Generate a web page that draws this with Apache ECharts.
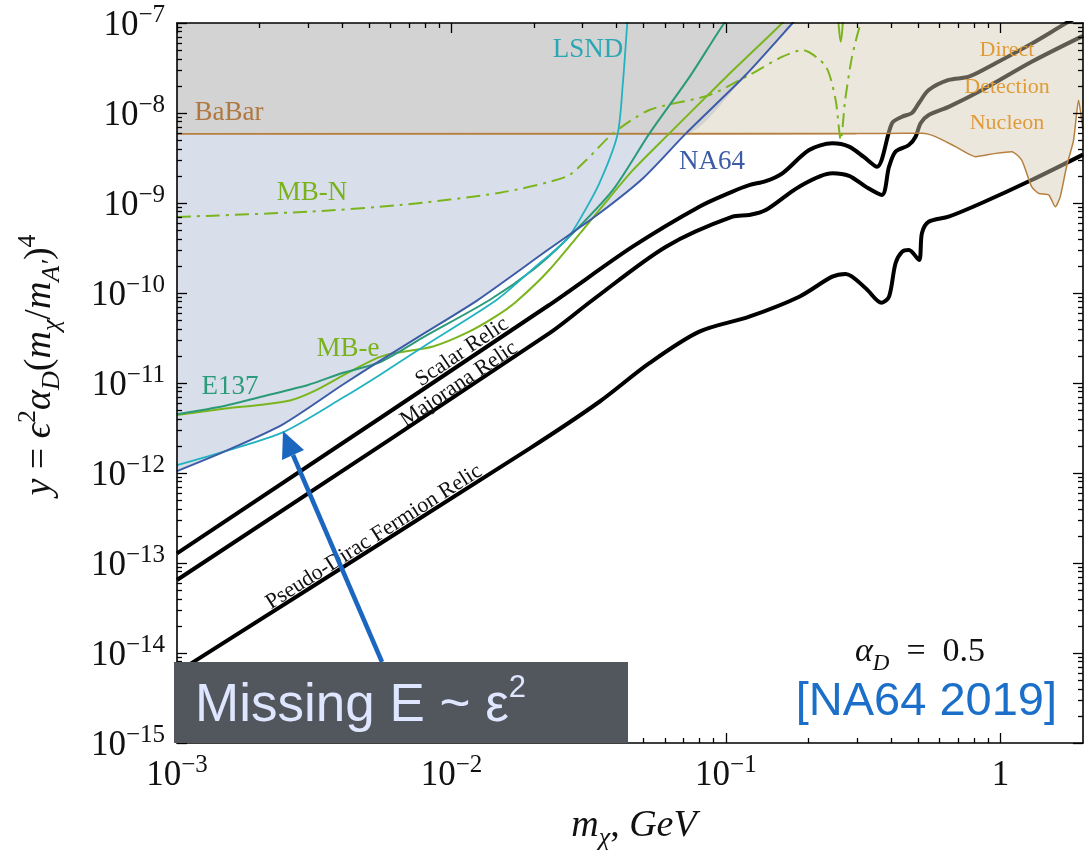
<!DOCTYPE html>
<html>
<head>
<meta charset="utf-8">
<script src="https://cdn.jsdelivr.net/npm/echarts@6/dist/echarts.min.js"></script>
<style>html,body{margin:0;padding:0;background:#fff}#c{width:1084px;height:855px}</style>
</head>
<body>
<div id="c"></div>
<script>
// ---------------- data ----------------
const X_MIN = 1e-3, X_MAX = 2, Y_MIN = 1e-15, Y_MAX = 1e-7;

const xMajorTicks = [1e-3, 1e-2, 1e-1, 1];
const xTickLabels = ['10^-3', '10^-2', '10^-1', '1'];
const yMajorTicks = [1e-15, 1e-14, 1e-13, 1e-12, 1e-11, 1e-10, 1e-9, 1e-8, 1e-7];
const yTickLabels = ['10^-15', '10^-14', '10^-13', '10^-12', '10^-11', '10^-10', '10^-9', '10^-8', '10^-7'];

// thermal relic targets (m_chi [GeV], y)
const scalarRelic = [
  [1e-3, 1.28e-13], [0.0227, 7.35e-11], [0.0457, 3.27e-10], [0.08, 9.1e-10],
  [0.1057, 1.34e-9], [0.1216, 1.58e-9], [0.1397, 1.75e-9], [0.1606, 2.14e-9],
  [0.201, 3.88e-9], [0.244, 4.6e-9], [0.281, 4.23e-9], [0.318, 3.25e-9],
  [0.355, 2.53e-9], [0.403, 7.7e-9], [0.438, 9.1e-9], [0.476, 1.0e-8],
  [0.505, 1.29e-8], [0.548, 1.8e-8], [0.648, 2.33e-8], [0.767, 2.53e-8],
  [0.96, 3.57e-8], [1.30, 5.9e-8], [1.77, 1.03e-7], [2.0, 1.25e-7]
];
const majoranaRelic = [
  [1e-3, 6.47e-14], [0.0227, 3.56e-11], [0.0327, 8.36e-11], [0.0605, 3.27e-10],
  [0.1057, 7.05e-10], [0.1216, 7.36e-10], [0.1397, 8.36e-10], [0.185, 1.52e-9],
  [0.244, 2.14e-9], [0.281, 2.0e-9], [0.323, 1.52e-9], [0.37, 1.23e-9],
  [0.393, 2.53e-9], [0.415, 3.72e-9], [0.464, 4.41e-9], [0.491, 5.45e-9],
  [0.512, 7.7e-9], [0.548, 9.5e-9], [0.648, 1.17e-8], [0.857, 1.8e-8],
  [1.30, 3.71e-8], [2.0, 7.2e-8]
];
const pseudoDiracRelic = [
  [1e-3, 6.1e-15], [0.0193, 1.88e-12], [0.0346, 6.19e-12], [0.0526, 1.66e-11],
  [0.080, 3.72e-11], [0.1216, 5.46e-11], [0.185, 9.1e-11], [0.244, 1.52e-10],
  [0.273, 1.63e-10], [0.323, 1.13e-10], [0.369, 7.8e-11], [0.393, 9.1e-11],
  [0.415, 2.14e-10], [0.439, 2.88e-10], [0.464, 3.0e-10], [0.505, 2.33e-10],
  [0.518, 4.64e-10], [0.548, 6.19e-10], [0.648, 7.05e-10], [0.855, 1.0e-9],
  [1.30, 1.8e-9], [2.0, 3.45e-9]
];

// experimental limits
const na64 = [
  [1e-3, 1.05e-12], [1.5e-3, 1.75e-12], [2.44e-3, 3.5e-12], [4e-3, 9.5e-12],
  [5.63e-3, 1.85e-11], [8e-3, 3.6e-11], [0.0125, 8.4e-11], [0.0224, 3.0e-10],
  [0.0346, 7.7e-10], [0.05, 1.9e-9], [0.0714, 5.9e-9], [0.118, 2.64e-8],
  [0.175, 1e-7], [0.2, 1.6e-7]
];
const lsnd = [
  [1e-3, 1.22e-12], [1.5e-3, 1.75e-12], [2.44e-3, 2.85e-12], [4e-3, 6.8e-12],
  [5.48e-3, 1.23e-11], [8e-3, 2.6e-11], [0.01459, 8.36e-11], [0.02, 1.9e-10],
  [0.0262, 3.9e-10], [0.0293, 6.5e-10], [0.0346, 1.66e-9], [0.0403, 5.8e-9],
  [0.0421, 2.1e-8], [0.0438, 1.1e-7]
];
const e137 = [
  [1e-3, 4.5e-12], [1.5e-3, 5.6e-12], [2.01e-3, 7.0e-12], [3e-3, 9.5e-12],
  [4.03e-3, 1.3e-11], [5.48e-3, 1.7e-11], [8e-3, 3.3e-11], [0.01377, 8.36e-11],
  [0.02, 1.85e-10], [0.0262, 3.9e-10], [0.0387, 1.39e-9], [0.0526, 5.9e-9],
  [0.0736, 2.5e-8], [0.0986, 1e-7], [0.11, 1.5e-7]
];
const mbElectron = [
  [1e-3, 4.4e-12], [1.5e-3, 5.2e-12], [2.0e-3, 5.7e-12], [2.58e-3, 6.4e-12],
  [3.2e-3, 8.3e-12], [4.27e-3, 1.34e-11], [5.63e-3, 2.0e-11], [8.57e-3, 2.55e-11],
  [0.01135, 3.6e-11], [0.0145, 5.5e-11], [0.0172, 8.0e-11], [0.0227, 1.8e-10],
  [0.0346, 8.4e-10], [0.0457, 2.3e-9], [0.0621, 5.9e-9], [0.1, 2.5e-8],
  [0.1606, 1e-7], [0.2, 2.0e-7], [0.245, 2.0e-7], [0.262, 6.2e-8],
  [0.275, 2.0e-7], [0.32, 3e-7]
];
const mbNucleon = [
  [1e-3, 7.0e-10], [3e-3, 8.0e-10], [6.5e-3, 9.5e-10], [0.015, 1.3e-9],
  [0.0262, 1.96e-9], [0.031, 3.0e-9], [0.0387, 5.9e-9], [0.0526, 1.08e-8],
  [0.0869, 1.58e-8], [0.1216, 2.64e-8], [0.16, 4.2e-8], [0.19, 5.0e-8],
  [0.231, 3.3e-8], [0.251, 1.4e-8], [0.262, 5.0e-9], [0.272, 1.4e-8],
  [0.288, 4.2e-8], [0.31, 1e-7], [0.33, 1.5e-7]
];
const babar = [[1e-3, 5.85e-9], [0.1, 5.88e-9], [0.3, 5.9e-9]];
const directDetection = [
  [0.3, 5.9e-9], [0.45, 5.95e-9], [0.518, 5.94e-9], [0.58, 5.46e-9],
  [0.686, 4.23e-9], [0.811, 3.27e-9], [0.959, 3.56e-9], [1.10, 3.72e-9],
  [1.196, 3.0e-9], [1.30, 1.52e-9], [1.378, 1.28e-9], [1.50, 1.23e-9],
  [1.585, 9.1e-10], [1.652, 1.17e-9], [1.742, 2.53e-9], [1.848, 5.0e-9],
  [1.927, 1.39e-8], [1.977, 8.4e-9], [2.0, 6.5e-9]
];

// ---------------- derived ----------------
const ddBoundary = babar.concat(directDetection.slice(1));
const babarLevel = babar[0][1];
const babarNa64Edge = na64.map(([x, y]) => [x, Math.max(y, babarLevel)]);

function minorTicks(majors, lo, hi) {
  const out = [];
  majors.forEach(m => { for (let k = 2; k <= 9; k++) { const v = k * m; if (v > lo && v < hi) out.push(v); } });
  return out;
}
const xMinorTicks = minorTicks([1e-3, 1e-2, 1e-1, 1], X_MIN, X_MAX);
const yMinorTicks = minorTicks(yMajorTicks, Y_MIN, Y_MAX);
const inside = (arr, lo, hi) => arr.map(v => Math.min(Math.max(v, lo * (1 + 1e-9)), hi * (1 - 1e-9)));

function richTick(lbl) {
  const p = lbl.split('^');
  return p.length > 1 ? '{b|' + p[0] + '}{s|' + p[1].replace('-', '\u2212') + '}' : '{b|' + p[0] + '}';
}
function tickFormatter(majors, labels) {
  return v => {
    let best = 0, d = Infinity;
    majors.forEach((m, i) => { const dd = Math.abs(Math.log10(v) - Math.log10(m)); if (dd < d) { d = dd; best = i; } });
    return richTick(labels[best]);
  };
}

const SERIF = '"Liberation Serif", "DejaVu Serif", serif';
const SANS = '"Liberation Sans", Arial, sans-serif';
const tickRich = {
  b: { fontFamily: SERIF, fontSize: 35, lineHeight: 40, verticalAlign: 'bottom', color: '#111' },
  s: { fontFamily: SERIF, fontSize: 25, lineHeight: 24, verticalAlign: 'top', color: '#111' }
};

function axis(dim, pos, ticks, len, showLine, labels) {
  const isX = dim === 'x';
  const lo = isX ? X_MIN : Y_MIN, hi = isX ? X_MAX : Y_MAX;
  const vals = inside(ticks, lo, hi);
  return {
    type: 'log', logBase: 10, min: lo, max: hi, position: pos, z: 10,
    axisLine: { show: showLine, lineStyle: { color: '#000', width: 1.6 } },
    axisTick: { show: true, inside: true, length: len, customValues: vals, lineStyle: { color: '#000', width: 1.3 } },
    axisLabel: labels ? {
      show: true, customValues: vals, margin: isX ? 10 : 12,
      formatter: tickFormatter(isX ? xMajorTicks : yMajorTicks, labels), rich: tickRich
    } : { show: false },
    splitLine: { show: false }, minorTick: { show: false }
  };
}

const xAxes = [
  axis('x', 'bottom', xMajorTicks, 10, true, xTickLabels),
  axis('x', 'bottom', xMinorTicks, 5, false, null),
  axis('x', 'top', xMajorTicks, 10, true, null),
  axis('x', 'top', xMinorTicks, 5, false, null)
];
const yAxes = [
  axis('y', 'left', yMajorTicks, 10, true, yTickLabels),
  axis('y', 'left', yMinorTicks, 5, false, null),
  axis('y', 'right', yMajorTicks, 10, true, null),
  axis('y', 'right', yMinorTicks, 5, false, null)
];

function line(name, data, color, width, z, extra) {
  return Object.assign({
    type: 'line', name, data, xAxisIndex: 0, yAxisIndex: 0, symbol: 'none', showSymbol: false,
    smooth: 0.25, lineStyle: { color, width }, z, silent: true, animation: false
  }, extra || {});
}
function area(name, data, color, z, smooth) {
  return line(name, data, color, 0, z, {
    smooth: smooth,
    lineStyle: { width: 0, opacity: 0 }, areaStyle: { color, origin: 'end', opacity: 1 }
  });
}

const series = [
  line('Scalar Relic', scalarRelic, '#000', 4, 1, { smooth: 0.3 }),
  line('Majorana Relic', majoranaRelic, '#000', 4, 1, { smooth: 0.3 }),
  line('Pseudo-Dirac Fermion Relic', pseudoDiracRelic, '#000', 4, 1, { smooth: 0.3 }),
  area('Direct Detection Nucleon', ddBoundary, 'rgba(212,201,179,0.45)', 2, 0.2),
  area('NA64 region', na64, '#d9dfea', 3, 0.25),
  area('BaBar region', babarNa64Edge, '#d3d3d3', 4, 0.25),
  line('BaBar', babar, '#b5803f', 1.8, 5, { smooth: 0 }),
  line('DD', directDetection, '#b5803f', 1.5, 5, { smooth: 0.2 }),
  line('MB-N', mbNucleon, '#7ab51d', 2, 6, { lineStyle: { color: '#7ab51d', width: 2, type: [14, 6, 3, 6] } }),
  line('MB-e', mbElectron, '#7ab51d', 2, 6),
  line('E137', e137, '#2a9a78', 2, 6),
  line('LSND', lsnd, '#22b2c0', 1.8, 6),
  line('NA64', na64, '#3d5ca8', 2, 7)
];

// ---------------- annotations ----------------
const INK = '#111';
const mathRich = (fs, col) => ({
  i: { fontFamily: SERIF, fontStyle: 'italic', fontSize: fs, lineHeight: fs + 12, verticalAlign: 'middle', fill: col || INK },
  r: { fontFamily: SERIF, fontSize: fs, lineHeight: fs + 12, verticalAlign: 'middle', fill: col || INK },
  sp: { fontFamily: SERIF, fontSize: Math.round(fs * 0.68), lineHeight: Math.round(fs * 0.68), verticalAlign: 'top', fill: col || INK },
  sb: { fontFamily: SERIF, fontStyle: 'italic', fontSize: Math.round(fs * 0.68), lineHeight: Math.round(fs * 0.68), verticalAlign: 'bottom', fill: col || INK }
});
function label(text, x, y, color, size, extra) {
  return Object.assign({
    type: 'text', x, y, z: 50, silent: true,
    style: { text, fill: color, font: size + 'px ' + SERIF, align: 'center', verticalAlign: 'middle' }
  }, extra || {});
}
const deg = Math.PI / 180;
const graphic = [
  label('BaBar', 229, 113, '#b07840', 27),
  label('MB-N', 312, 193, '#79b21b', 27),
  label('LSND', 588, 50, '#2aa7b3', 27),
  label('NA64', 712, 162, '#3d5ca6', 27),
  label('E137', 230, 387, '#2b9b7b', 27),
  label('MB-e', 348, 349, '#79b21b', 27),
  label('Direct', 1007, 50, '#e09b38', 22),
  label('Detection', 1007, 87, '#e09b38', 22),
  label('Nucleon', 1007, 123, '#e09b38', 22),
  label('Scalar Relic', 462, 352, INK, 22, { rotation: 34 * deg }),
  label('Majorana Relic', 459, 384, INK, 22, { rotation: 34 * deg }),
  label('Pseudo-Dirac Fermion Relic', 374, 537, INK, 22, { rotation: 32.5 * deg }),
  { type: 'text', x: 40, y: 365, rotation: 90 * deg, z: 50, silent: true,
    style: { text: '{i|y}{r| = }{i|\u03F5}{sp|2}{i|\u03B1}{sb|D}{r|(}{i|m}{sb|\u03C7}{r|/}{i|m}{sb|A\u2032}{r|)}{sp|4}',
      align: 'center', verticalAlign: 'middle', rich: mathRich(38) } },
  { type: 'text', x: 634, y: 826, z: 50, silent: true,
    style: { text: '{i|m}{sb|\u03C7}{r|, }{i|GeV}', align: 'center', verticalAlign: 'middle', rich: mathRich(38) } },
  { type: 'text', x: 920, y: 652, z: 50, silent: true,
    style: { text: '{i|\u03B1}{sb|D}{r|  =  0.5}', align: 'center', verticalAlign: 'middle', rich: mathRich(34) } },
  { type: 'text', x: 1057, y: 702, z: 50, silent: true,
    style: { text: '[NA64 2019]', fill: '#1b6fc8', font: '47px ' + SANS, align: 'right', verticalAlign: 'middle' } },
  // arrow
  { type: 'line', z: 60, silent: true, shape: { x1: 382, y1: 662, x2: 293, y2: 455 },
    style: { stroke: '#1b67c0', lineWidth: 4.5 } },
  { type: 'polygon', z: 60, silent: true, shape: { points: [[283, 431], [304, 450], [282, 460]] },
    style: { fill: '#1b67c0' } },
  // box
  { type: 'rect', z: 70, silent: true, shape: { x: 174, y: 662, width: 454, height: 81 },
    style: { fill: '#52575e' } },
  { type: 'text', x: 195, y: 703, z: 71, silent: true,
    style: { text: '{a|Missing E ~ \u03B5}{s|2}', align: 'left', verticalAlign: 'middle', fill: '#dfe6ff',
      rich: {
        a: { fontFamily: SANS, fontSize: 53, lineHeight: 60, verticalAlign: 'bottom', fill: '#dfe6ff' },
        s: { fontFamily: SANS, fontSize: 31, lineHeight: 43, verticalAlign: 'top', fill: '#dfe6ff' }
      } } }
];

const chart = echarts.init(document.getElementById('c'), null, { renderer: 'canvas', width: 1084, height: 855 });
chart.setOption({
  animation: false,
  backgroundColor: '#fff',
  grid: { left: 177, right: 1, top: 23, bottom: 112, outerBoundsMode: 'none' },
  xAxis: xAxes,
  yAxis: yAxes,
  series,
  graphic
});
</script>
</body>
</html>
